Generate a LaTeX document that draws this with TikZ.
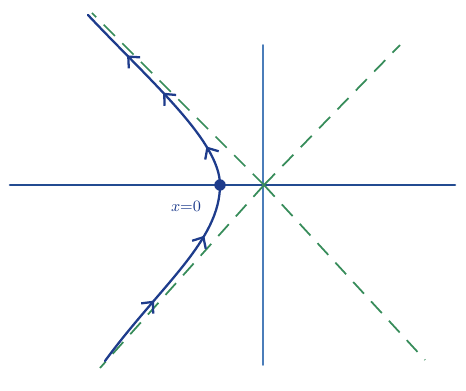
\documentclass[tikz,border=0pt]{standalone}
\usepackage{tikz}
\usetikzlibrary{arrows.meta, decorations.markings}
\definecolor{haxisline}{RGB}{35,75,145}
\definecolor{vaxisline}{RGB}{75,125,185}
\definecolor{rayline}{RGB}{55,140,90}
\definecolor{pathline}{RGB}{30,60,140}

\begin{document}
\begin{tikzpicture}[
  haxis/.style={draw=haxisline, line width=1.5pt, line cap=round},
  vaxis/.style={draw=vaxisline, line width=1.1pt, line cap=round},
  ray/.style={draw=rayline, line width=1pt, dash pattern=on 9pt off 6pt},
  contour/.style={draw=pathline, line width=1.3pt, line cap=round,
                  decoration={markings,
                    mark=at position 0.18 with {\arrow{Straight Barb[length=5pt, width=9pt]}},
                    mark=at position 0.37 with {\arrow{Straight Barb[length=5pt, width=9pt]}},
                    mark=at position 0.59 with {\arrow{Straight Barb[length=5pt, width=9pt]}},
                    mark=at position 0.75 with {\arrow{Straight Barb[length=5pt, width=9pt]}},
                    mark=at position 0.87 with {\arrow{Straight Barb[length=5pt, width=9pt]}}},
                  postaction={decorate}},
  pointnode/.style={circle, fill=pathline, inner sep=2.3pt},
  font=\small,
]
\useasboundingbox (0,0) rectangle (9.32,7.82);

% =================================================================
% AXES
% =================================================================
\coordinate (origin) at (5.28, 4.12);
\coordinate (hleft) at (0.2, 4.12);
\coordinate (hright) at (9.1, 4.12);
\coordinate (vtop) at (5.26, 6.92);
\coordinate (vbot) at (5.26, 0.52);
\draw[haxis] (hleft) -- (hright);
\draw[vaxis] (vbot) -- (vtop);

% =================================================================
% DASHED RAYS
% =================================================================
\coordinate (rayur) at (8.0, 6.92);
\coordinate (raylr) at (8.5, 0.62);
\coordinate (rayul) at (1.84, 7.56);
\coordinate (rayll) at (2.0, 0.46);
\foreach \r in {rayur, raylr, rayul, rayll}
  \draw[ray] (origin) -- (\r);

% =================================================================
% CONTOUR THROUGH x=0
% =================================================================
\node[pointnode] (xzero) at (4.4, 4.12) {};
\node[text=pathline] (xlabel) at (3.72, 3.7) {$x{=}0$};
\coordinate (cstart) at (2.1, 0.6);
\coordinate (cend) at (1.76, 7.52);
\draw[contour] (cstart) .. controls (3.2, 2.1) and (4.4, 3.0) .. (xzero.center)
  .. controls (4.4, 5.0) and (3.0, 6.2) .. (cend);

\end{tikzpicture}
\end{document}
